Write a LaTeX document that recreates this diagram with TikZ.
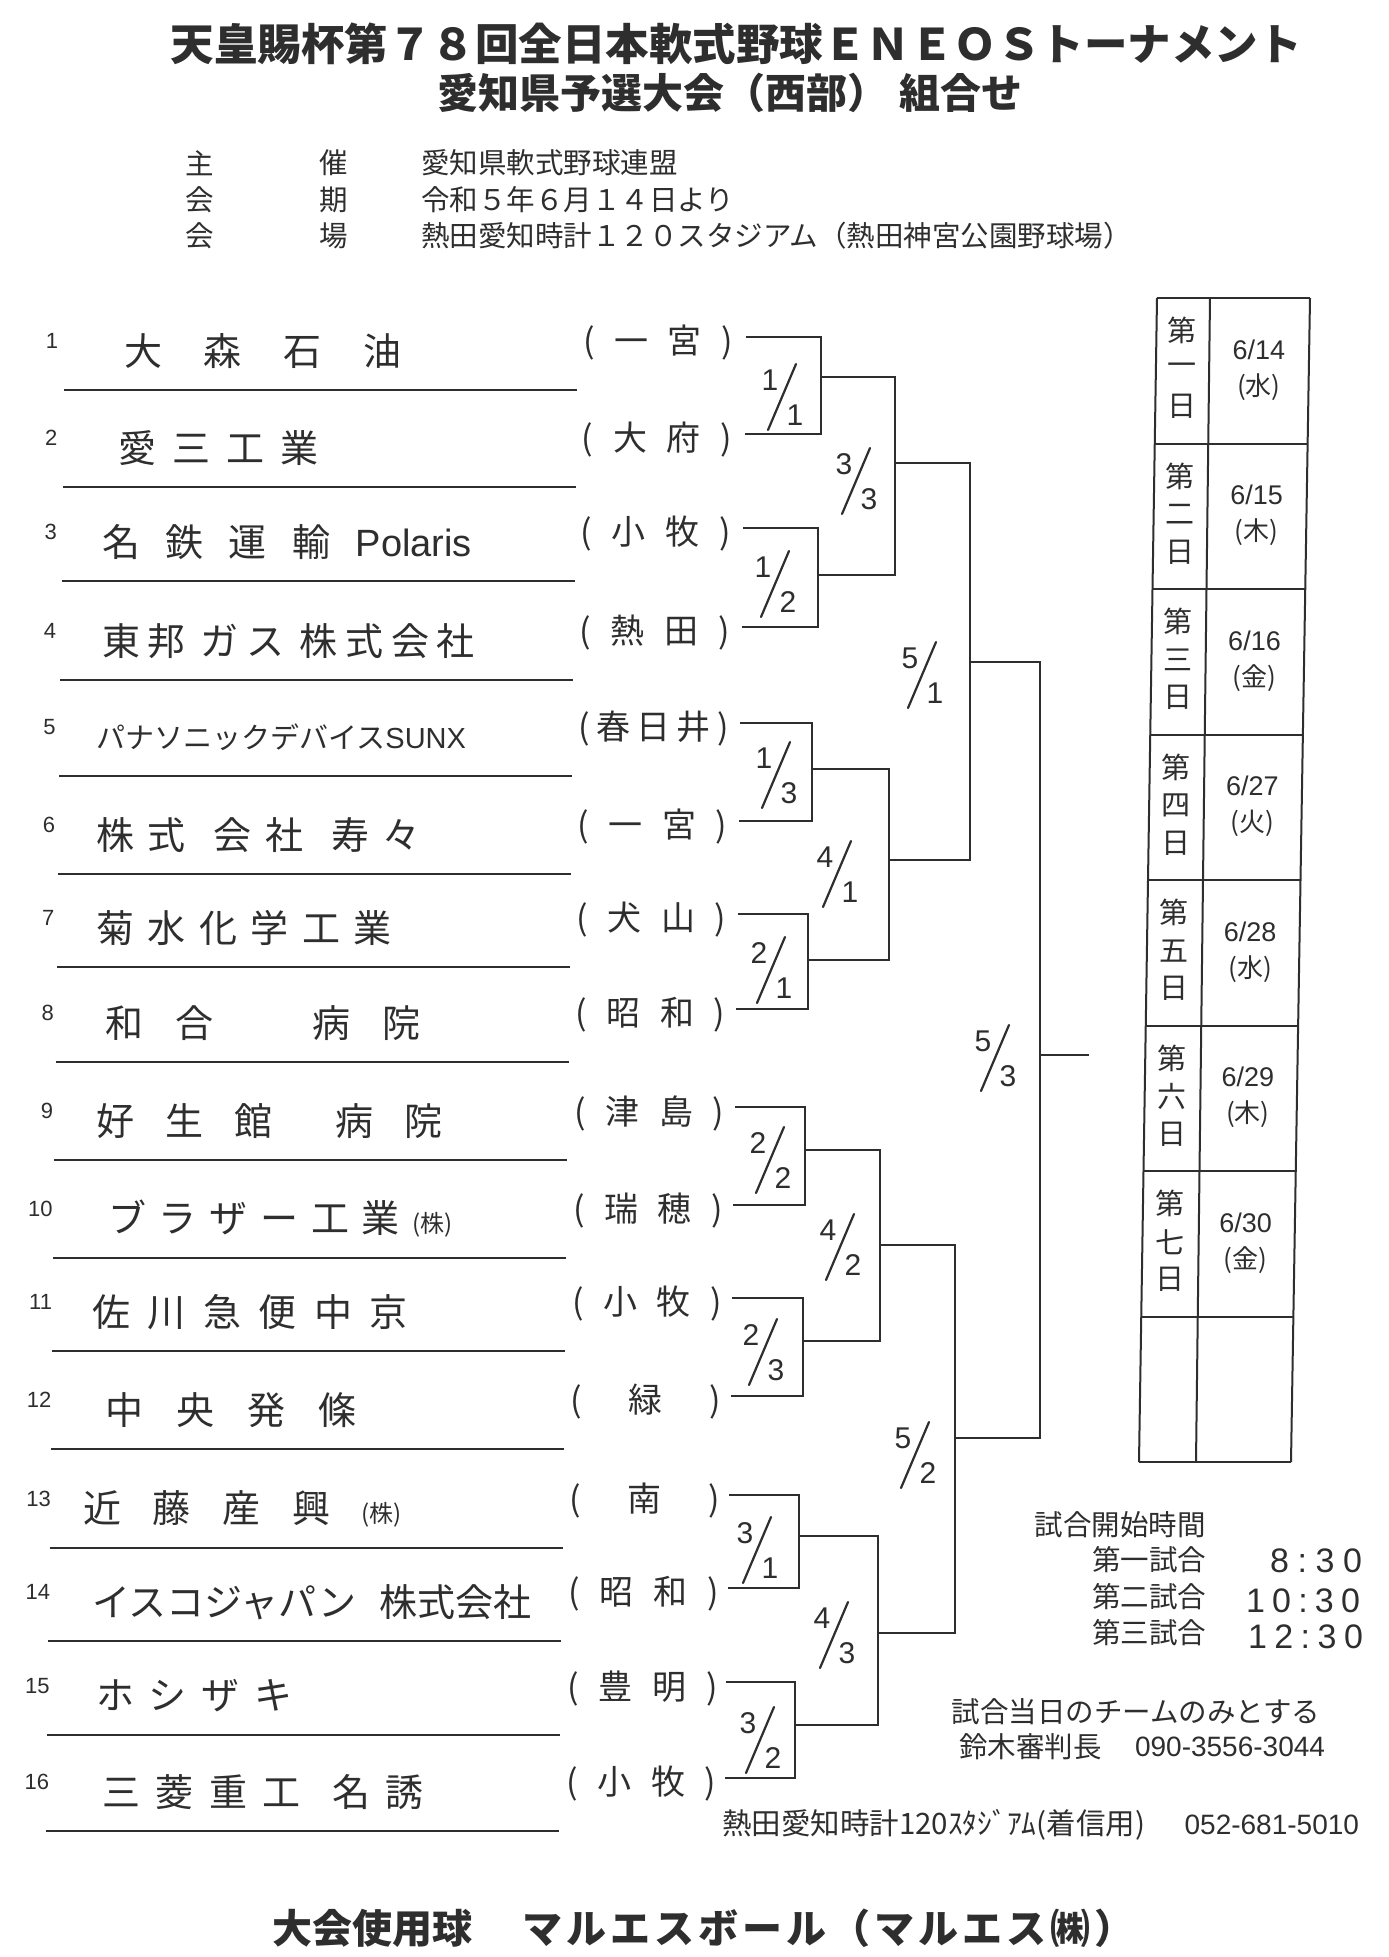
\documentclass[tikz,border=0pt]{standalone}
\usepackage{fontspec}
\setmainfont{Noto Sans CJK JP}
\newfontfamily\lat{Liberation Sans}
\newcommand\fsz[1]{\fontsize{#1pt}{#1pt}\selectfont}
\definecolor{ink}{gray}{0.18}
\tikzset{
  every node/.style={inner sep=0pt, outer sep=0pt, text=ink},
  numsty/.style={font=\lat\fsz{22}},
  namesty/.style={font=\fsz{38}},
  citysty/.style={font=\fsz{34}},
  uline/.style={draw=ink, line width=2.4pt},
  bline/.style={draw=ink, line width=2pt},
  gnum/.style={font=\lat\fsz{30}},
  gslash/.style={draw=ink, line width=2.2pt, line cap=round},
  tline/.style={draw=ink, line width=2pt},
  hd/.style={font=\fsz{28.5}},
  daysty/.style={font=\fsz{29}},
  datesty/.style={font=\lat\fsz{27}},
  wdsty/.style={font=\fsz{26}},
  timesty/.style={font=\lat\fsz{34}},
}
\newcommand\team[6]{%
  \node[numsty, anchor=east] (n#1) at ({58-0.6*(#1-1)}, {#2+4}) {#1};
  \node[namesty, anchor=west] (t#1) at (#3, {#2+14}) {\makebox[#4pt][s]{#5}};
  \node[citysty] (c#1) at ({658-1.1*(#1-1)}, {#2+6}) {\makebox[150pt][s]{(\hfil #6\hfil)}};
  \draw[uline] ({64-1.2*(#1-1)}, {#2+53}) -- ({577-1.2*(#1-1)}, {#2+53});
  \coordinate (s#1) at ({746-1.4*(#1-1)}, #2);
}
\newcommand\game[5]{%
  \node[gnum] (g#1a) at ({#2-12},{#3-17}) {#4};
  \node[gnum] (g#1b) at ({#2+13},{#3+18}) {#5};
  \draw[gslash] ({#2-14},{#3+33}) -- ({#2+14},{#3-33});
}
\begin{document}
\begin{tikzpicture}[x=1pt,y=-1pt]
\useasboundingbox (0,0) rectangle (1389,1957);
\fill[white] (0,0) rectangle (1389,1957);

% Title
\node[font=\bfseries\fsz{43.5}] (title1) at (736,44) {天皇賜杯第７８回全日本軟式野球ＥＮＥＯＳトーナメント};
\node[font=\bfseries\fsz{41}] (title2) at (730,93) {愛知県予選大会（西部）\hspace{12pt}組合せ};

% Info
\node[hd] (h1a) at (200,163) {主};
\node[hd] (h1b) at (334,163) {催};
\node[hd,anchor=west] (h1c) at (421,163) {愛知県軟式野球連盟};
\node[hd] (h2a) at (200,200) {会};
\node[hd] (h2b) at (334,200) {期};
\node[hd,anchor=west] (h2c) at (421,200) {令和５年６月１４日より};
\node[hd] (h3a) at (200,236) {会};
\node[hd] (h3b) at (334,236) {場};
\node[hd,anchor=west] (h3c) at (421,236) {熱田愛知時計１２０スタジアム（熱田神宮公園野球場）};

% Teams
\team{1}{337}{124}{278}{大\hfil 森\hfil 石\hfil 油}{一\hfil 宮}
\team{2}{434}{118}{201}{愛\hfil 三\hfil 工\hfil 業}{大\hfil 府}
\team{3}{528}{102}{370}{名\hfil 鉄\hfil 運\hfil 輸\hfil{\lat Polaris}}{小\hfil 牧}
\team{4}{627}{102}{373}{東\hfil 邦\hfil\hfil ガ\hfil ス\hfil\hfil 株\hfil 式\hfil 会\hfil 社}{熱\hfil 田}
\team{5}{723}{96}{370}{\fsz{29}パナソニックデバイス\hfil{\lat SUNX}}{春\hfil 日\hfil 井}
\team{6}{821}{96}{325}{株\hfil 式\hfil\hfil 会\hfil 社\hfil\hfil 寿\hfil 々}{一\hfil 宮}
\team{7}{914}{96}{296}{菊\hfil 水\hfil 化\hfil 学\hfil 工\hfil 業}{犬\hfil 山}
\team{8}{1009}{105}{316}{和\hfil 合\hfil\hfil\hfil 病\hfil 院}{昭\hfil 和}
\team{9}{1107}{96}{347}{好\hfil 生\hfil 館\hfil\hfil 病\hfil 院}{津\hfil 島}
\team{10}{1205}{108}{345}{ブ\hfil ラ\hfil ザ\hfil ー\hfil 工\hfil 業\hfil{\fsz{24}(株)}}{瑞\hfil 穂}
\team{11}{1298}{92}{316}{佐\hfil 川\hfil 急\hfil 便\hfil 中\hfil 京}{小\hfil 牧}
\team{12}{1396}{105}{252}{中\hfil 央\hfil 発\hfil 條}{\hfil 緑\hfil}
\team{13}{1495}{83}{319}{近\hfil 藤\hfil 産\hfil 興\hfil{\fsz{24}(株)}}{\hfil 南\hfil}
\team{14}{1588}{92}{440}{イスコジャパン\hfil 株式会社}{昭\hfil 和}
\team{15}{1682}{96}{197}{ホ\hfil シ\hfil ザ\hfil キ}{豊\hfil 明}
\team{16}{1778}{102}{322}{三\hfil 菱\hfil 重\hfil 工\hfil\hfil 名\hfil 誘}{小\hfil 牧}

% Bracket junctions
\coordinate (m1) at (821,377);
\coordinate (m2) at (818,575);
\coordinate (m3) at (812,769);
\coordinate (m4) at (808,960);
\coordinate (m5) at (805,1150);
\coordinate (m6) at (803,1341);
\coordinate (m7) at (799,1536);
\coordinate (m8) at (795,1725);
\coordinate (q1) at (895,463);
\coordinate (q2) at (889,860);
\coordinate (q3) at (880,1245);
\coordinate (q4) at (878,1633);
\coordinate (r1) at (970,662);
\coordinate (r2) at (955,1438);
\coordinate (f) at (1040,1055);
\coordinate (fend) at (1089,1055);

\draw[bline] (s1) -| (m1) |- (s2);
\draw[bline] (s3) -| (m2) |- (s4);
\draw[bline] (s5) -| (m3) |- (s6);
\draw[bline] (s7) -| (m4) |- (s8);
\draw[bline] (s9) -| (m5) |- (s10);
\draw[bline] (s11) -| (m6) |- (s12);
\draw[bline] (s13) -| (m7) |- (s14);
\draw[bline] (s15) -| (m8) |- (s16);
\draw[bline] (m1) -| (q1) |- (m2);
\draw[bline] (m3) -| (q2) |- (m4);
\draw[bline] (m5) -| (q3) |- (m6);
\draw[bline] (m7) -| (q4) |- (m8);
\draw[bline] (q1) -| (r1) |- (q2);
\draw[bline] (q3) -| (r2) |- (q4);
\draw[bline] (r1) -| (f) |- (r2);
\draw[bline] (f) -- (fend);

% Game labels
\game{11}{782}{397}{1}{1}
\game{12}{775}{584}{1}{2}
\game{13}{776}{775}{1}{3}
\game{21}{771}{970}{2}{1}
\game{22}{770}{1160}{2}{2}
\game{23}{763}{1352}{2}{3}
\game{31}{757}{1550}{3}{1}
\game{32}{760}{1740}{3}{2}
\game{33}{856}{481}{3}{3}
\game{41}{837}{874}{4}{1}
\game{42}{840}{1247}{4}{2}
\game{43}{834}{1635}{4}{3}
\game{51}{922}{675}{5}{1}
\game{52}{915}{1455}{5}{2}
\game{53}{995}{1058}{5}{3}

% Schedule table
\foreach \k in {0,...,8}
  \draw[tline] ({1157-2.25*\k},{298+145.5*\k}) -- ({1310-2.4*\k},{298+145.5*\k});
\draw[tline] (1157,298) -- (1139,1462);
\draw[tline] (1210,298) -- (1196,1462);
\draw[tline] (1310,298) -- (1291,1462);
\foreach \k/\n/\d/\w in {1/一/14/水,2/二/15/木,3/三/16/金,4/四/27/火,5/五/28/水,6/六/29/木,7/七/30/金}{
  \pgfmathsetmacro\cy{298+145.5*(\k-0.5)}
  \pgfmathsetmacro\lx{1183.5-2.1*(\k-0.5)}
  \pgfmathsetmacro\rx{1260-2.2*(\k-0.5)}
  \node[daysty] (dA\k) at (\lx,\cy-40) {第};
  \node[daysty] (dB\k) at (\lx,\cy-2) {\n};
  \node[daysty] (dC\k) at (\lx,\cy+36) {日};
  \node[datesty] (dD\k) at (\rx,\cy-21) {6/\d};
  \node[wdsty] (dE\k) at (\rx,\cy+16) {(\w)};
}

% Start times
\node[hd] (st) at (1120,1525) {試合開始時間};
\node[hd,anchor=west] (gm1) at (1092,1560) {第一試合};
\node[hd,anchor=west] (gm2) at (1092,1597) {第二試合};
\node[hd,anchor=west] (gm3) at (1092,1633) {第三試合};
\node[timesty,anchor=east] (tm1) at (1362,1561) {\makebox[92pt][s]{8\hfil :\hfil 3\hfil 0}};
\node[timesty,anchor=east] (tm2) at (1360,1601) {\makebox[114pt][s]{1\hfil 0\hfil :\hfil 3\hfil 0}};
\node[timesty,anchor=east] (tm3) at (1363,1637) {\makebox[115pt][s]{1\hfil 2\hfil :\hfil 3\hfil 0}};

% Notes
\node[hd] (note1) at (1136,1712) {試合当日のチームのみとする};
\node[hd,anchor=west] (note2) at (959,1747) {鈴木審判長};
\node[font=\lat\fsz{28},anchor=east] (note3) at (1325,1747) {090-3556-3044};
\node[font=\fsz{29.5},anchor=west] (std) at (722,1825) {熱田愛知時計120ｽﾀｼﾞｱﾑ(着信用)};
\node[font=\lat\fsz{28},anchor=east] (stdtel) at (1359,1825) {052-681-5010};

% Ball
\node[font=\bfseries\fsz{40},anchor=west] (ball) at (272,1928) {大会使用球\hspace{50pt}\makebox[612pt][s]{マ\hfil ル\hfil エ\hfil ス\hfil ボ\hfil ー\hfil ル\hfil （\hfil マ\hfil ル\hfil エ\hfil ス\hfil ㈱\hfil ）}};
\end{tikzpicture}
\end{document}
